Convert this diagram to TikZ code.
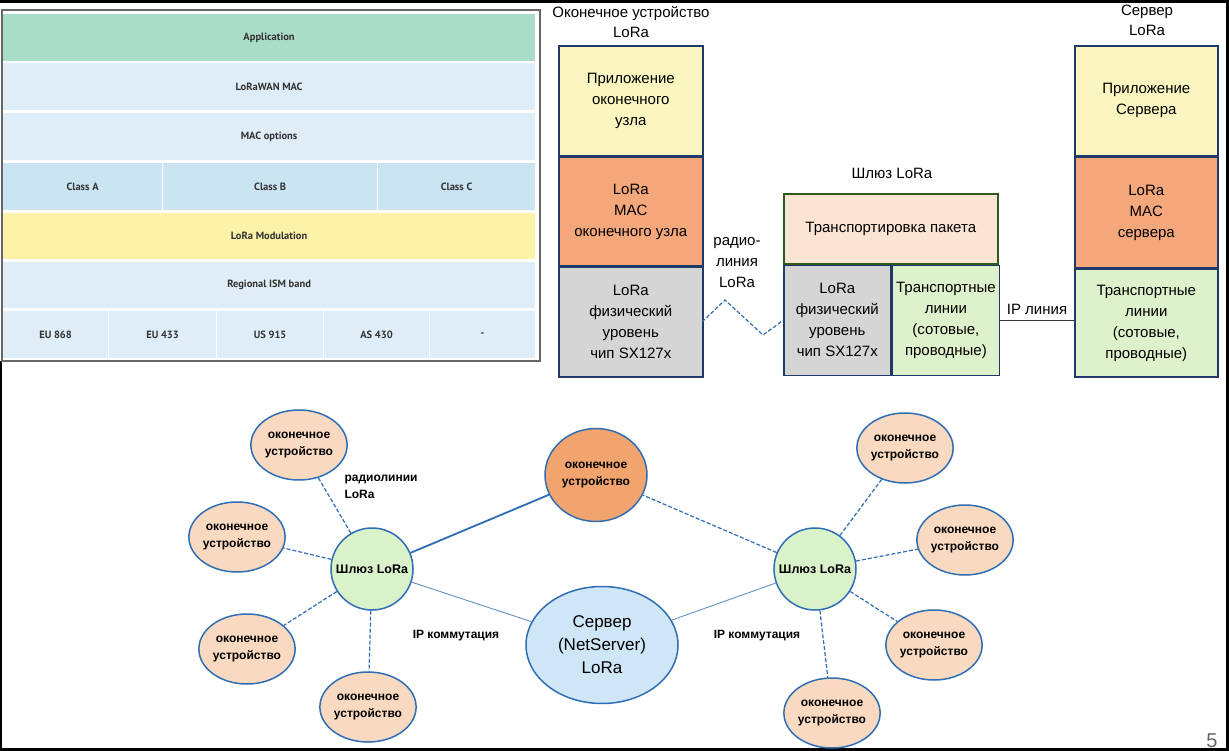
\documentclass[tikz,border=0pt]{standalone}
\usepackage{fontspec}
\setmainfont{Liberation Sans}
\newfontfamily\tabfont{PT Sans}
\usepackage{tikz}
\usetikzlibrary{shapes.geometric,positioning}
\definecolor{tabgreen}{HTML}{A9DDC9}
\definecolor{tabblue}{HTML}{DEEDF8}
\definecolor{tabclass}{HTML}{CBE4F2}
\definecolor{tabyellow}{HTML}{FDF3A8}
\definecolor{appyellow}{HTML}{FBF6BF}
\definecolor{macorange}{HTML}{F4A77A}
\definecolor{phygray}{HTML}{D5D5D5}
\definecolor{trgreen}{HTML}{DDF1CB}
\definecolor{pktpeach}{HTML}{FCE4D3}
\definecolor{pktline}{HTML}{2F5A1E}
\definecolor{stackline}{HTML}{1F3A68}
\definecolor{linkblue}{HTML}{2F6DB5}
\definecolor{devpeach}{HTML}{F9DAC0}
\definecolor{devorange}{HTML}{F2A46E}
\definecolor{gwgreen}{HTML}{DAF2CA}
\definecolor{srvblue}{HTML}{CFE6F7}

\begin{document}
\begin{tikzpicture}[
x=1pt, y=-1pt,
tabcell/.style={
  draw=white, line width=1.2pt, anchor=north west, inner sep=0pt,
  minimum height=48pt, text=black!80,
  font=\tabfont\bfseries\fontsize{10.5}{12}\selectfont
  },
layer/.style={
  draw=stackline, line width=1.6pt, anchor=north west, inner sep=0pt,
  align=center, minimum width=144pt,
  font=\fontsize{15}{21}\selectfont
  },
dev/.style={
  ellipse, draw=linkblue, line width=1.5pt, fill=devpeach, inner sep=0pt,
  minimum width=78pt, minimum height=70pt, align=center,
  font=\bfseries\fontsize{12}{17}\selectfont
  },
gw/.style={
  circle, draw=linkblue, line width=1.5pt, fill=gwgreen, inner sep=0pt,
  minimum size=82pt, font=\bfseries\fontsize{12.5}{16}\selectfont
  },
radio/.style={draw=linkblue, line width=1.2pt, dash pattern=on 4pt off 2pt},
ipline/.style={draw=linkblue!75, line width=0.9pt},
lbl/.style={align=center, font=\fontsize{15}{20}\selectfont},
smalllbl/.style={align=left, font=\bfseries\fontsize{12}{17}\selectfont}
]
\useasboundingbox (0,0) rectangle (1229,751);
\fill[white] (0,0) rectangle (1229,751);
% black edge of the slide
\fill[black] (0,0) rectangle (1229,3);
\fill[black] (1226,0) rectangle (1229,751);
\fill[black] (0,748) rectangle (1229,751);
\fill[black] (0,361) rectangle (2,751);

% LoRaWAN table
\node[tabcell, fill=tabgreen, minimum width=533pt] (tabapp) at (2,13) {Application};
\node[tabcell, fill=tabblue, minimum width=533pt] (tabwan) at (2,62) {LoRaWAN MAC};
\node[tabcell, fill=tabblue, minimum width=533pt] (tabopt) at (2,112) {MAC options};
\foreach \Name/\X/\W in {A/2/160,B/162/215,C/377/158}
  \node[tabcell, fill=tabclass, minimum width=\W pt] (class\Name) at (\X,162) {Class \Name};
\node[tabcell, fill=tabyellow, minimum width=533pt, minimum height=47pt] (tabmod) at (2,212) {LoRa Modulation};
\node[tabcell, fill=tabblue, minimum width=533pt, minimum height=47pt] (tabism) at (2,261) {Regional ISM band};
\foreach \Band/\X/\W [count=\i] in {EU 868/2/106,EU 433/108/108,US 915/216/107,AS 430/323/106,-/429/106}
  \node[tabcell, fill=tabblue, minimum width=\W pt] (band\i) at (\X,310) {\Band};
\draw[black!60, line width=1.2pt] (2,10) rectangle (540,361);

% protocol stacks
\node[lbl] (edtitle) at (631,22) {Оконечное устройство\\LoRa};
\node[layer, fill=appyellow, minimum height=110pt] (edapp) at (558,45) {Приложение\\оконечного\\узла};
\node[layer, fill=macorange, minimum height=108pt, below=0pt of edapp] (edmac) {LoRa\\MAC\\оконечного узла};
\node[layer, fill=phygray, minimum height=110pt, below=0pt of edmac] (edphy) {LoRa\\физический\\уровень\\чип SX127x};

\node[lbl] (gwtitle) at (892,173) {Шлюз LoRa};
\node[layer, draw=pktline, fill=pktpeach, minimum width=214pt, minimum height=70pt] (gwpkt) at (783,193) {Транспортировка пакета};
\node[layer, fill=phygray, minimum width=107pt, minimum height=110pt, below right=0pt and 0pt of gwpkt.south west, anchor=north west] (gwphy) {LoRa\\физический\\уровень\\чип SX127x};
\node[layer, fill=trgreen, minimum width=107pt, minimum height=110pt, right=0pt of gwphy] (gwtr) {Транспортные\\линии\\(сотовые,\\проводные)};

\node[lbl] (srvtitle) at (1147,20) {Сервер\\LoRa};
\node[layer, fill=appyellow, minimum width=143pt, minimum height=110pt] (srvapp) at (1074,45) {Приложение\\Сервера};
\node[layer, fill=macorange, minimum width=143pt, minimum height=110pt, below=0pt of srvapp] (srvmac) {LoRa\\MAC\\сервера};
\node[layer, fill=trgreen, minimum width=143pt, minimum height=108pt, below=0pt of srvmac] (srvtr) {Транспортные\\линии\\(сотовые,\\проводные)};

% radio link and IP link
\node[lbl, font=\fontsize{15}{21}\selectfont] (radiolbl) at (737,263) {радио-\\линия\\LoRa};
\coordinate (zz0) at (702,322);
\coordinate (zz1) at (725,300);
\coordinate (zz2) at (763,335);
\draw[radio] (zz0) -- (zz1) -- (zz2) -- (gwphy.west);
\draw[black!80, line width=0.9pt] (gwtr.east) -- (gwtr.east -| srvtr.west);
\node[lbl] (iplbl) at (1037,309) {IP линия};

% LoRaWAN network
\node[dev] (ed1) at (299,445) {оконечное\\устройство};
\node[dev] (ed2) at (237,537) {оконечное\\устройство};
\node[dev] (ed3) at (247,649) {оконечное\\устройство};
\node[dev] (ed4) at (368,707) {оконечное\\устройство};
\node[dev] (ed5) at (905,448) {оконечное\\устройство};
\node[dev] (ed6) at (965,540) {оконечное\\устройство};
\node[dev] (ed7) at (934,645) {оконечное\\устройство};
\node[dev] (ed8) at (832,713) {оконечное\\устройство};
\node[dev, fill=devorange, minimum width=102pt, minimum height=93pt] (edmid) at (596,475) {оконечное\\устройство};
\node[gw] (gwl) at (372,569) {Шлюз LoRa};
\node[gw] (gwr) at (815,569) {Шлюз LoRa};
\node[ellipse, draw=linkblue, line width=1.5pt, fill=srvblue, minimum width=152pt, minimum height=117pt, inner sep=0pt, align=center, font=\fontsize{17}{23}\selectfont] (srv) at (602,645) {Сервер\\(NetServer)\\LoRa};

\foreach \Dev in {ed1,ed2,ed3,ed4}
  \draw[radio] (gwl) -- (\Dev);
\foreach \Dev in {ed5,ed6,ed7,ed8,edmid}
  \draw[radio] (gwr) -- (\Dev);
\draw[draw=linkblue, line width=1.8pt] (gwl) -- (edmid);
\draw[ipline] (gwl) -- (srv);
\draw[ipline] (srv) -- (gwr);

\node[smalllbl, anchor=north west] (radiolinks) at (341,471) {радиолинии\\LoRa};
\node[smalllbl] (ipsw1) at (456,636) {IP коммутация};
\node[smalllbl] (ipsw2) at (757,636) {IP коммутация};

\node[text=black!60, font=\fontsize{20}{20}\selectfont] (pagenum) at (1212,741) {5};
\end{tikzpicture}
\end{document}
